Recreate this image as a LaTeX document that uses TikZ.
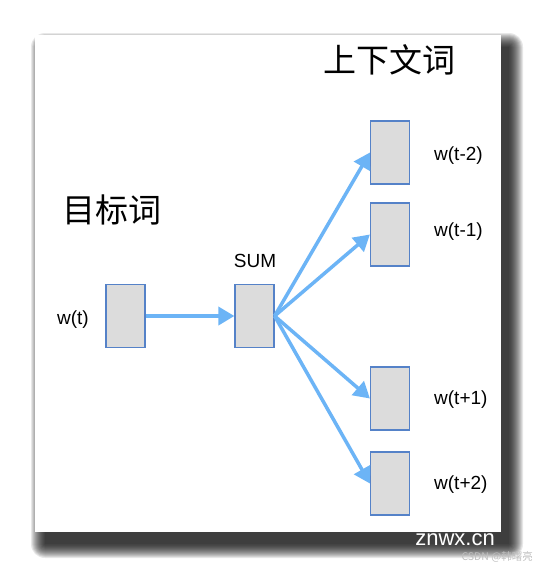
\documentclass[tikz,border=0pt]{standalone}
\usepackage{fontspec}
\setmainfont{Liberation Sans}
\newfontfamily\cjk{Noto Sans CJK SC}
\usetikzlibrary{arrows.meta}

\definecolor{boxgray}{RGB}{220,220,220}
\definecolor{boxedge}{RGB}{85,130,200}
\definecolor{arrowblue}{RGB}{108,180,246}

\begin{document}
\begin{tikzpicture}[x=1pt, y=-1pt,
    wordbox/.style={draw=boxedge, line width=1.2pt, fill=boxgray, minimum width=39pt, minimum height=63pt, inner sep=0pt},
    wordlabel/.style={font=\fontsize{19}{19}\selectfont, inner sep=0pt},
    titlelabel/.style={font=\cjk\fontsize{33}{33}\selectfont, inner sep=0pt},
    flow/.style={draw=arrowblue, line width=3.5pt, -{Triangle[length=16pt, width=18pt]}}]

    \useasboundingbox (0,0) rectangle (536,568);

    % Sombra y tarjeta
    \foreach \e in {0,...,14}
      \fill[black, opacity=0.09, rounded corners=\e pt] (45-\e,47-\e) rectangle (509+\e,544+\e);
    \fill[white] (35,35) rectangle (501,532);

    % Títulos
    \node[titlelabel] (ctx) at (389,60) {上下文词};
    \node[titlelabel] (tgt) at (112,210) {目标词};

    % Cajas de palabras
    \node[wordbox] (wt) at (125.5,316) {};
    \node[wordbox] (sum) at (254.5,316) {};
    \node[wordbox] (tm2) at (390,152.5) {};
    \node[wordbox] (tm1) at (390,234.5) {};
    \node[wordbox] (tp1) at (390,398.5) {};
    \node[wordbox] (tp2) at (390,483.5) {};

    % Etiquetas
    \node[wordlabel, anchor=east] (lwt) at (89,320) {w(t)};
    \node[wordlabel] (lsum) at (255,261) {SUM};
    \node[wordlabel, anchor=west] (ltm2) at (434,156) {w(t-2)};
    \node[wordlabel, anchor=west] (ltm1) at (434,232) {w(t-1)};
    \node[wordlabel, anchor=west] (ltp1) at (434,400) {w(t+1)};
    \node[wordlabel, anchor=west] (ltp2) at (434,485) {w(t+2)};

    % Flechas
    \draw[flow] (wt.east) -- (sum.west);
    \foreach \n in {tm2,tm1,tp1,tp2}
      \draw[flow] (sum.east) -- (\n.west);

    % Marca de agua
    \node[text=white, font=\fontsize{22}{22}\selectfont, inner sep=0pt] (wm) at (455,540) {znwx.cn};
    \node[text=gray!50, font=\cjk\fontsize{10.5}{10.5}\selectfont, anchor=east, inner sep=0pt] (wmcsdn) at (533,557) {CSDN @韩曙亮};

  \end{tikzpicture}
\end{document}
